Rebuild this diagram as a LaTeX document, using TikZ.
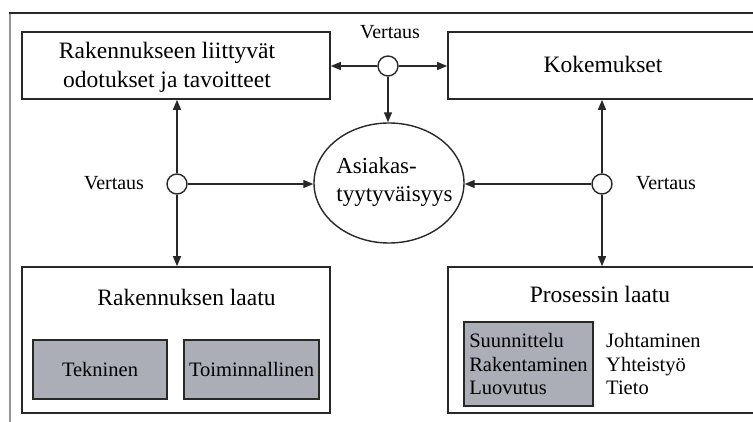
\documentclass[tikz,border=0pt]{standalone}
\usepackage{fontspec}
\setmainfont{Liberation Serif}
\usetikzlibrary{arrows.meta,shapes.geometric}
\definecolor{linec}{RGB}{40,40,40}
\definecolor{boxgray}{RGB}{171,174,183}
\definecolor{framegray}{RGB}{150,150,150}
\begin{document}
\begin{tikzpicture}[x=1pt,y=-1pt,
  box/.style={draw=linec, line width=1.6pt, fill=white, inner sep=0pt},
  graybox/.style={draw=linec, line width=1.4pt, fill=boxgray, inner sep=0pt, font=\fontsize{20.5}{23.5}\selectfont},
  conn/.style={draw=linec, line width=1.3pt, -{Triangle[length=10pt,width=8pt]}},
  junc/.style={circle, draw=linec, line width=1.4pt, fill=white, minimum size=20pt, inner sep=0pt},
  ellbox/.style={ellipse, draw=linec, line width=1.4pt, fill=white, inner sep=0pt, minimum width=150pt, minimum height=120pt},
  maintext/.style={font=\fontsize{23.5}{29}\selectfont, inner sep=0pt},
  lbl/.style={font=\fontsize{20}{24}\selectfont, inner sep=0pt},
  innertext/.style={font=\fontsize{20.5}{23.5}\selectfont, inner sep=0pt}]
\useasboundingbox (0,0) rectangle (753,422);
% outer frame
\draw[framegray, line width=2pt] (10,422) -- (10,13);
\draw[linec, line width=1.5pt] (9,13) -- (753,13);
% boxes
\node[box, minimum width=308pt, minimum height=67pt] (tl) at (176,65.5) {};
\node[box, minimum width=309pt, minimum height=67pt] (tr) at (602.5,65.5) {};
\node[box, minimum width=308pt, minimum height=146pt] (bl) at (176,340) {};
\node[box, minimum width=309pt, minimum height=146pt] (br) at (602.5,340) {};
% texts in boxes
\node[maintext, align=center] (tlt) at (167,67) {Rakennukseen liittyvät\\odotukset ja tavoitteet};
\node[maintext] (trt) at (603,64) {Kokemukset};
\node[maintext] (blt) at (186.5,297) {Rakennuksen laatu};
\node[maintext] (brt) at (600,294) {Prosessin laatu};
% ellipse
\node[ellbox] (ell) at (389,183) {};
\node[maintext, font=\fontsize{23}{28}\selectfont, align=left] (ellt) at (394.5,182) {Asiakas-\\tyytyväisyys};
% junctions
\node[junc] (jt) at (388,66) {};
\node[junc] (jl) at (177,184) {};
\node[junc] (jr) at (602,184) {};
% connectors
\draw[conn] (jt) -- (jt -| tl.east);
\draw[conn] (jt) -- (jt -| tr.west);
\draw[conn] (jt) -- (jt |- ell.north);
\draw[conn] (jl) -- (jl |- tl.south);
\draw[conn] (jl) -- (jl |- bl.north);
\draw[conn] (jl) -- (jl -| ell.west);
\draw[conn] (jr) -- (jr |- tr.south);
\draw[conn] (jr) -- (jr |- br.north);
\draw[conn] (jr) -- (jr -| ell.east);
% labels
\node[lbl] (vt) at (390,32) {Vertaus};
\node[lbl] (vl) at (114,183) {Vertaus};
\node[lbl] (vr) at (666,183) {Vertaus};
% inner boxes
\node[graybox, minimum width=134pt, minimum height=59pt] (tek) at (100,369.5) {Tekninen};
\node[graybox, minimum width=135pt, minimum height=59pt] (toi) at (251.5,369.5) {Toiminnallinen};
\node[graybox, align=left, minimum width=129pt, minimum height=84pt, inner xsep=5pt] (phase) at (528.5,364) {Suunnittelu\\Rakentaminen\\Luovutus};
\node[innertext, align=left, anchor=west] (aspects) at (606,364) {Johtaminen\\Yhteistyö\\Tieto};
\end{tikzpicture}
\end{document}
